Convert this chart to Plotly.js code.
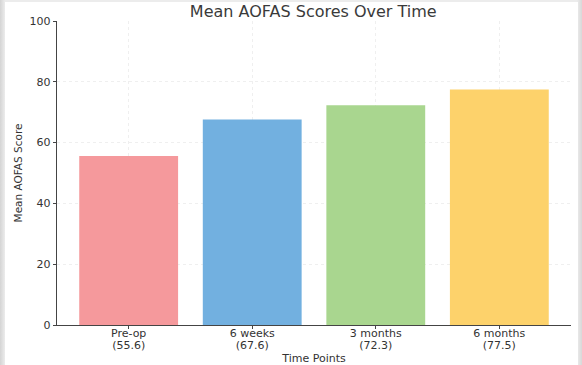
<!DOCTYPE html>
<html><head><meta charset="utf-8">
<script src="https://cdn.plot.ly/plotly-3.0.1.min.js"></script>
<style>
html,body{margin:0;padding:0;width:582px;height:365px;overflow:hidden;background:linear-gradient(to right,#d4d4d4 0px,#ececec 5px,#ececec 577px,#d8d8d8 582px);}
#chart{position:absolute;left:5px;top:2px;width:573px;height:363px;background:#fff;}
</style></head>
<body><div id="chart"></div>
<script>
const categories = ["Pre-op", "6 weeks", "3 months", "6 months"];
const scores = [55.6, 67.6, 72.3, 77.5];
const colors = ["#F5999C", "#72B0E0", "#A9D68F", "#FDD26B"];
const valueLabels = scores.map(v => "(" + v.toFixed(1) + ")");

const bars = {
  type: "bar",
  x: categories,
  y: scores,
  marker: {color: colors, line: {width: 0}},
  width: 0.8,
  hoverinfo: "skip"
};
const helper = {
  type: "scatter", mode: "none",
  x: categories, y: scores,
  xaxis: "x2", yaxis: "y",
  hoverinfo: "skip", showlegend: false
};
const common = {
  type: "category",
  range: [-0.58, 3.58],
  tickmode: "array", tickvals: categories,
  tickfont: {size: 11, color: "#333"},
  zeroline: false
};
const layout = {
  width: 573, height: 363,
  margin: {l: 52, r: 7, t: 19, b: 40},
  paper_bgcolor: "#ffffff",
  plot_bgcolor: "#ffffff",
  font: {family: "DejaVu Sans, sans-serif", size: 11, color: "#333"},
  title: {text: "Mean AOFAS Scores Over Time", font: {size: 16, color: "#3a3a3a"}, x: 0.538, xanchor: "center", y: 0.975, yanchor: "middle"},
  showlegend: false,
  xaxis: Object.assign({}, common, {
    ticktext: categories,
    showgrid: true, gridcolor: "#efefef", griddash: "dot", gridwidth: 1,
    showline: true, linecolor: "#444", linewidth: 1.2,
    ticks: "outside", ticklen: 3, tickcolor: "#444",
    ticklabelstandoff: -5,
    title: {text: "Time Points", font: {size: 11, color: "#333"}, standoff: 15}
  }),
  xaxis2: Object.assign({}, common, {
    overlaying: "x", side: "bottom",
    ticktext: valueLabels,
    showgrid: false, showline: false,
    ticks: "outside", ticklen: 3, tickcolor: "rgba(0,0,0,0)",
    ticklabelstandoff: 7
  }),
  yaxis: {
    range: [0, 100],
    tickvals: [0, 20, 40, 60, 80, 100],
    showgrid: true, gridcolor: "#efefef", griddash: "dot", gridwidth: 1,
    showline: true, linecolor: "#444", linewidth: 1.2,
    ticks: "outside", ticklen: 3, tickcolor: "#444",
    tickfont: {size: 11, color: "#333"},
    title: {text: "Mean AOFAS Score", font: {size: 10.5, color: "#333"}, standoff: 5},
    zeroline: false
  }
};
Plotly.newPlot("chart", [bars, helper], layout, {staticPlot: true, displayModeBar: false});
</script></body></html>
